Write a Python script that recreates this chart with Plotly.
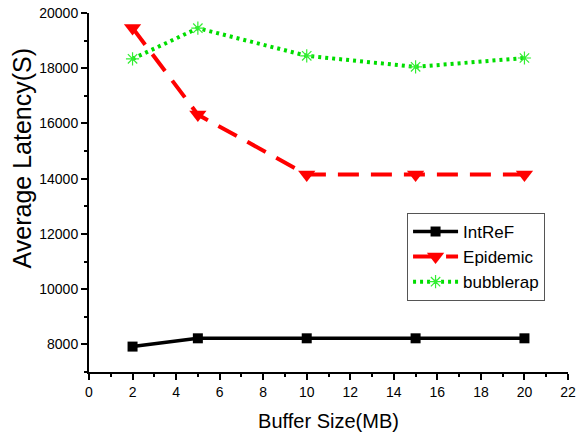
import plotly.graph_objects as go

buffer_mb = [2, 5, 10, 15, 20]
intref = [7920, 8220, 8220, 8220, 8220]
epidemic = [19460, 16320, 14150, 14150, 14150]
bubblerap = [18340, 19450, 18450, 18050, 18370]

fig = go.Figure()
fig.add_trace(go.Scatter(x=buffer_mb, y=intref, name="IntReF", mode="lines+markers",
                         line=dict(color="black", width=3.5),
                         marker=dict(symbol="square", size=10, color="black")))
fig.add_trace(go.Scatter(x=buffer_mb, y=epidemic, name="Epidemic", mode="lines+markers",
                         line=dict(color="#ff0000", width=4, dash="21px,12px"),
                         marker=dict(symbol="triangle-down", size=15, color="#ff0000")))
fig.add_trace(go.Scatter(x=buffer_mb, y=bubblerap, name="bubblerap", mode="lines+markers",
                         line=dict(color="#00dd00", width=4, dash="3px,4px"),
                         marker=dict(symbol="asterisk-open", size=11, color="#33ee33",
                                     line=dict(color="#33ee33", width=1.2))))

font = "Liberation Sans, Arial, sans-serif"
fig.update_layout(
    width=577, height=437,
    margin=dict(l=89, r=9, t=13, b=65),
    paper_bgcolor="white", plot_bgcolor="white",
    font=dict(family=font, size=14, color="black"),
    showlegend=True,
    legend=dict(x=0.664, y=0.443, xanchor="left", yanchor="top",
                bordercolor="#555555", borderwidth=1, bgcolor="white",
                font=dict(size=17), tracegroupgap=0, itemwidth=45),
    xaxis=dict(range=[0, 22], tickmode="linear", tick0=0, dtick=2, automargin=False,
               showgrid=False, zeroline=False, showline=True, linecolor="black", linewidth=2,
               ticks="outside", ticklen=6, tickwidth=2, tickcolor="black",
               minor=dict(ticks="outside", ticklen=3, tickwidth=2, dtick=1, tick0=0, tickcolor="black"),
               title=dict(text="Buffer Size(MB)", font=dict(size=20)),
               tickfont=dict(size=14), tickformat="d", ticklabeloverflow="allow"),
    yaxis=dict(range=[7000, 20000], tickmode="linear", tick0=8000, dtick=2000, automargin=False,
               showgrid=False, zeroline=False, showline=True, linecolor="black", linewidth=2,
               ticks="outside", ticklen=6, tickwidth=2, tickcolor="black",
               minor=dict(ticks="outside", ticklen=3, tickwidth=2, dtick=1000, tick0=7000, tickcolor="black"),
               tickfont=dict(size=14), tickformat="d", ticklabeloverflow="allow"),
    annotations=[dict(text="Average Latency(S)", textangle=-90, xref="paper", yref="paper",
                      x=-0.139, y=0.596, xanchor="center", yanchor="middle", showarrow=False,
                      font=dict(size=25))],
)
fig.write_html("out.html", config={"displayModeBar": False},
               post_script="document.body.style.margin='0';")
